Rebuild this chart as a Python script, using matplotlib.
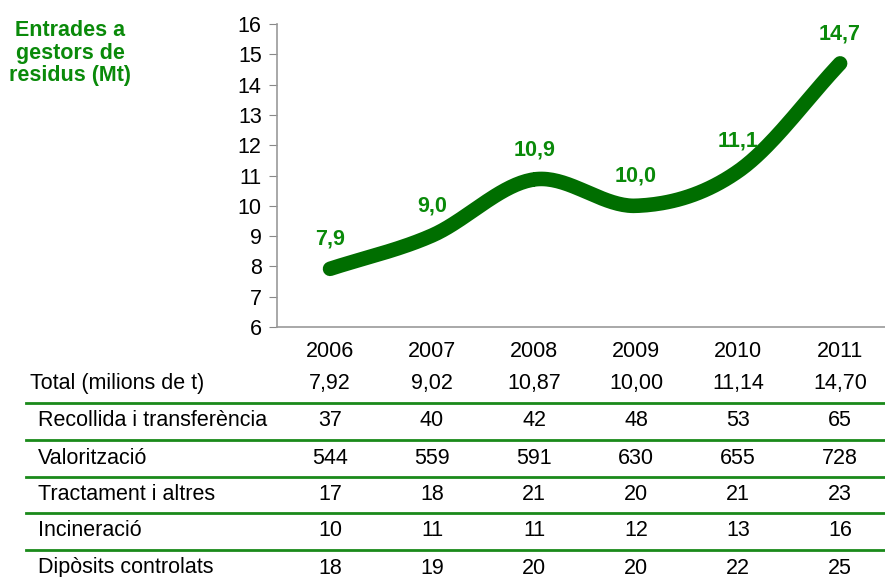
import numpy as np
import matplotlib.pyplot as plt
from matplotlib.transforms import blended_transform_factory

plt.rcParams['font.family'] = ['Liberation Sans', 'DejaVu Sans']

years = ['2006', '2007', '2008', '2009', '2010', '2011']
total = [7.92, 9.02, 10.87, 10.00, 11.14, 14.70]
point_labels = ['7,9', '9,0', '10,9', '10,0', '11,1', '14,7']

row_names = ['Total (milions de t)', 'Recollida i transferència', 'Valorització',
             'Tractament i altres', 'Incineració', 'Dipòsits controlats']
row_values = [
    ['7,92', '9,02', '10,87', '10,00', '11,14', '14,70'],
    ['37', '40', '42', '48', '53', '65'],
    ['544', '559', '591', '630', '655', '728'],
    ['17', '18', '21', '20', '21', '23'],
    ['10', '11', '11', '12', '13', '16'],
    ['18', '19', '20', '20', '22', '25'],
]

GREEN = '#006e00'
LABEL_GREEN = '#0a8a0a'
FS = 15.5


def smooth(x, y, n=40):
    # Catmull-Rom style smoothing like Excel's smoothed line
    x = np.asarray(x, float)
    y = np.asarray(y, float)
    px = np.concatenate([[2 * x[0] - x[1]], x, [2 * x[-1] - x[-2]]])
    py = np.concatenate([[2 * y[0] - y[1]], y, [2 * y[-1] - y[-2]]])
    xs, ys = [], []
    t = np.linspace(0, 1, n)
    for i in range(1, len(px) - 2):
        for p, out in ((px, xs), (py, ys)):
            p0, p1, p2, p3 = p[i - 1], p[i], p[i + 1], p[i + 2]
            out.append(0.5 * ((2 * p1) + (-p0 + p2) * t +
                              (2 * p0 - 5 * p1 + 4 * p2 - p3) * t ** 2 +
                              (-p0 + 3 * p1 - 3 * p2 + p3) * t ** 3))
    return np.concatenate(xs), np.concatenate(ys)


fig = plt.figure(figsize=(8.85, 5.77), dpi=100)
ax = fig.add_axes([277 / 885, 1 - 327 / 577, 1 - 277 / 885, (327 - 24) / 577])

xi = np.arange(len(years))
sx, sy = smooth(xi, total)
ax.plot(sx, sy, color=GREEN, lw=10.5, solid_capstyle='round')

for i, (v, lab) in enumerate(zip(total, point_labels)):
    ax.annotate(lab, (i, v), xytext=(0, 21.5), textcoords='offset points',
                ha='center', va='center', color=LABEL_GREEN,
                fontsize=FS, fontweight='bold')

ax.set_xlim(-0.52, 5.44)
ax.set_ylim(6, 16)
ax.set_yticks(range(6, 17))
ax.set_xticks(xi)
ax.set_xticklabels(years)
ax.tick_params(axis='y', length=6, color='#888888', labelsize=FS, pad=5, direction='out')
ax.tick_params(axis='x', length=0, labelsize=FS, pad=10)
for s in ['top', 'right']:
    ax.spines[s].set_visible(False)
for s in ['left', 'bottom']:
    ax.spines[s].set_color('#999999')
    ax.spines[s].set_linewidth(1.2)

fig.text(70 / 885, 1 - 53 / 577, 'Entrades a\ngestors de\nresidus (Mt)',
         ha='center', va='center', color=LABEL_GREEN, fontsize=FS,
         fontweight='bold', linespacing=1.1)

# table under the chart
tr = blended_transform_factory(ax.transData, fig.transFigure)
row_y = [383, 420, 458, 494, 531, 568]
line_y = [403, 440, 477, 513, 550]
for r, (name, vals) in enumerate(zip(row_names, row_values)):
    yy = 1 - row_y[r] / 577
    xl = 30 if r == 0 else 38
    fig.text(xl / 885, yy, name, ha='left', va='center', fontsize=FS)
    for i, v in enumerate(vals):
        fig.text(i, yy, v, transform=tr, ha='center', va='center', fontsize=FS)
for ly in line_y:
    fig.add_artist(plt.Line2D([26 / 885, 1], [1 - ly / 577] * 2,
                              transform=fig.transFigure, color='#1a8a1a', lw=2))

fig.savefig('out.png', dpi=100)
